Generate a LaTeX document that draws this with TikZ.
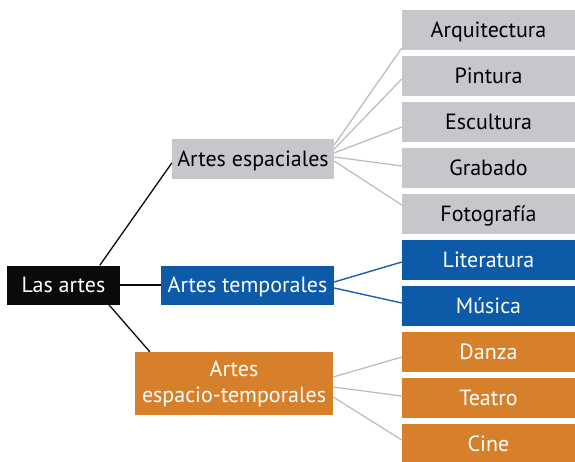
\documentclass[tikz,border=0pt]{standalone}
\usepackage{fontspec}
\setmainfont{PT Sans}
\usetikzlibrary{calc}
\definecolor{cgray}{HTML}{C6C7CA}
\definecolor{cblue}{HTML}{0D5AA8}
\definecolor{corange}{HTML}{D6802B}
\definecolor{cblack}{HTML}{0A0A0C}
\definecolor{lgray}{HTML}{B8BABD}
\definecolor{lblue}{HTML}{1B5FAF}
\begin{document}
\begin{tikzpicture}[x=1pt,y=-1pt,
  boxbase/.style={inner sep=0pt, align=center, font=\fontsize{22}{26}\selectfont},
  fixedtext/.style={text height=16pt, text depth=2pt},
  leaf/.style={boxbase, fixedtext, minimum width=173pt, minimum height=40pt},
  greybox/.style={fill=cgray, text=black},
  bluebox/.style={fill=cblue, text=white},
  orangebox/.style={fill=corange, text=white},
  blackbox/.style={fill=cblack, text=white},
  blackline/.style={draw=cblack, line width=1.3pt},
  grayline/.style={draw=lgray, line width=1.2pt},
  blueline/.style={draw=lblue, line width=1.4pt}]
\useasboundingbox (0,0) rectangle (575,461);
% leaves
\node[leaf,greybox] (arq) at (488.5,30) {Arquitectura};
\node[leaf,greybox] (pin) at (488.5,76) {Pintura};
\node[leaf,greybox] (esc) at (488.5,122) {Escultura};
\node[leaf,greybox] (gra) at (488.5,168) {Grabado};
\node[leaf,greybox] (fot) at (488.5,214) {Fotografía};
\node[leaf,bluebox] (lit) at (488.5,260) {Literatura};
\node[leaf,bluebox] (mus) at (488.5,306) {Música};
\node[leaf,orangebox] (dan) at (488.5,352) {Danza};
\node[leaf,orangebox] (tea) at (488.5,398) {Teatro};
\node[leaf,orangebox] (cin) at (488.5,444) {Cine};
% middle
\node[boxbase,fixedtext,blackbox,minimum width=113pt,minimum height=39pt] (la) at (63.5,285) {Las artes};
\node[boxbase,fixedtext,greybox,minimum width=162pt,minimum height=40pt] (es) at (253,159) {Artes espaciales};
\node[boxbase,fixedtext,bluebox,minimum width=173pt,minimum height=39pt] (te) at (247.5,285.5) {Artes temporales};
\node[boxbase,orangebox,minimum width=198pt,minimum height=63pt] (et) at (234,383.5) {Artes\\espacio-temporales};
% black connectors
\draw[blackline] ($(la.north west)!0.82!(la.north east)$) -- ($(es.west)+(0,4)$);
\draw[blackline] (la.east) -- (la.east -| te.west);
\draw[blackline] ($(la.south west)!0.9!(la.south east)$) -- ($(et.north west)+(15,0)$);
% gray fan
\draw[grayline] ($(es.east)+(0,-14)$) -- ($(arq.west)+(0,18)$);
\draw[grayline] ($(es.east)+(0,-10)$) -- ($(pin.west)+(0,3)$);
\draw[grayline] ($(es.east)+(0,-6)$) -- ($(esc.west)+(0,5)$);
\draw[grayline] ($(es.east)+(0,-2)$) -- ($(gra.west)+(0,-2)$);
\draw[grayline] ($(es.east)+(0,2)$) -- ($(fot.west)+(0,-9)$);
% blue fan
\draw[blueline] ($(te.east)+(0,-3.5)$) -- ($(lit.west)+(0,2)$);
\draw[blueline] ($(te.east)+(0,2.5)$) -- ($(mus.west)+(0,-3)$);
% orange fan
\draw[grayline] ($(et.east)+(0,-6.5)$) -- ($(dan.west)+(0,5)$);
\draw[grayline] ($(et.east)+(0,3.5)$) -- ($(tea.west)+(0,-2)$);
\draw[grayline] ($(et.east)+(0,13.5)$) -- ($(cin.west)+(0,-4)$);
\end{tikzpicture}
\end{document}
